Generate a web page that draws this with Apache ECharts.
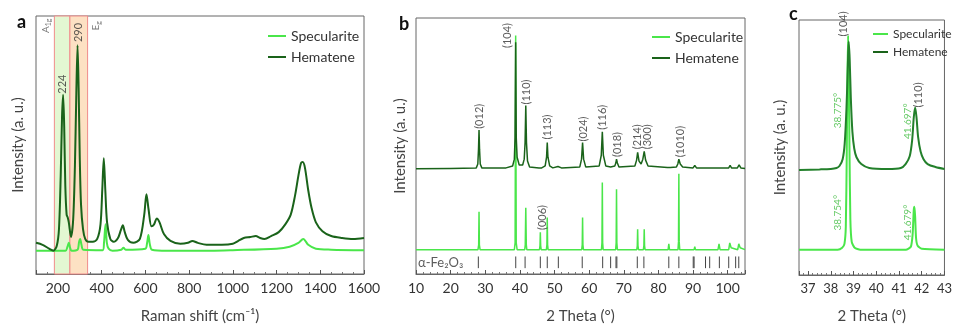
<!DOCTYPE html>
<html>
<head>
<meta charset="utf-8">
<script src="https://cdn.jsdelivr.net/npm/echarts@6/dist/echarts.min.js"></script>
<style>
html,body{margin:0;padding:0;background:#fff;}
#chart{width:955px;height:329px;}
</style>
</head>
<body>
<div id="chart"></div>
<script>
// ---------- Panel a: Raman spectra (x: cm-1, y: a.u.) ----------
const ramanHematene = [
  [100,32],[130,30],[160,26],[180,24],[195,29],[205,46],[213,101],[219,161],[224,184],[229,151],[234,91],
  [240,61],[245,58],[250,53],[260,38],[270,56],[278,111],[284,181],[290,235],[295,191],[300,121],[306,71],
  [315,46],[325,36],[340,33],[360,33],[380,36],[395,51],[403,86],[410,119],[417,86],[425,53],[440,36],
  [455,33],[475,37],[488,45],[497,50],[506,43],[520,35],[545,32],[575,36],[595,61],[605,82],[615,66],
  [628,49],[640,51],[652,57],[665,53],[685,41],[715,34],[760,31],[795,32],[815,34],[840,32],[880,30],
  [950,30],[1000,31],[1025,34],[1050,37],[1080,38],[1105,39],[1125,37],[1145,36],[1175,39],[1210,43],
  [1240,51],[1265,61],[1285,81],[1300,101],[1312,114],[1320,115],[1330,109],[1345,86],[1360,68],
  [1380,53],[1410,44],[1450,39],[1500,37],[1550,36],[1600,37]
];
const ramanSpecularite = [
  [100,24],[235,24],[244,28],[250,32],[256,27],[262,24],[290,25],[297,33],[302,36],[308,30],[316,25],
  [405,24.5],[411,32],[418,51],[424,32],[432,26],[450,24],[490,25],[500,27],[510,25],[600,26],[608,32],
  [614,40],[621,30],[630,25],[700,24],[900,24],[1000,24.5],[1200,26],[1260,28],[1300,32],[1322,36],
  [1345,30],[1380,26],[1450,25],[1600,24.5]
];
const ramanBands = [[184,255,'#e3f7d2'],[255,336,'#fde1c3']];
const ramanPeakLabels = [[223,195,'224'],[292,248,'290']];
const ramanModeLabels = [[146,255,'{a|A}{s|1g}'],[374,255,'{a|E}{s|g}']];
const ramanTicks = {min:100, max:1600};

// ---------- Panel b: XRD patterns (x: 2 theta deg) ----------
const xrdHematene = [
  [10,108],[20,108.5],[27.4,109],[27.85,113],[28.05,128],[28.2,148],[28.35,128],[28.55,113],[29.0,109],
  [36,109],[37.9,111],[38.4,118],[38.6,140],[38.78,238],[38.95,140],[39.2,120],[39.8,112],[40.8,112],
  [41.25,118],[41.5,135],[41.7,173],[41.9,135],[42.2,116],[42.8,110],[45.5,109],[45.9,111],[46.3,109],
  [47.3,111],[47.7,120],[47.9,135],[48.1,120],[48.6,111],[49.5,109],[51.0,110.5],[52,109],
  [57.3,110],[57.8,118],[58.1,135],[58.4,118],[59,110],[62.9,111],[63.5,122],[63.8,146],[64.1,122],
  [64.8,111],[66.2,110],[67.4,111],[67.7,114],[67.9,118],[68.15,114],[68.6,110],[73.2,111],[73.7,117],
  [74.0,125],[74.4,116],[75.0,113],[75.5,118],[75.9,126],[76.3,117],[77,111],[82.6,109.5],[83.0,111.5],
  [83.4,109.5],[85.2,110],[85.6,113],[85.9,118],[86.3,113],[87,110],[90,109],[90.5,111.5],[91,109],
  [97,109],[97.5,111],[98,109],[100.3,109],[100.7,111.5],[101.1,109],[102.8,109],[103.3,112],[103.8,109],[105,108.5]
];
const xrdSpecularite = [
  [10,25],[27.9,25],[28.1,30],[28.2,64],[28.3,30],[28.5,25],[38.4,25],[38.62,32],[38.78,245],[38.94,32],
  [39.2,25],[41.4,25],[41.55,30],[41.7,68],[41.85,30],[42.0,25],[45.65,25],[45.8,29],[45.9,43],[46.0,29],
  [46.15,25],[47.65,25],[47.8,30],[47.9,58],[48.0,30],[48.15,25],[57.85,25],[58.0,30],[58.1,58],[58.2,30],
  [58.35,25],[63.55,25],[63.7,32],[63.8,94],[63.9,32],[64.05,25],[67.65,25],[67.8,32],[67.9,87],[68.0,32],
  [68.15,25],[73.75,25],[73.9,29],[74.0,46],[74.1,29],[74.25,25],[75.65,25],[75.8,29],[75.9,46],[76.0,29],
  [76.15,25],[82.8,25],[83.0,31],[83.2,25],[85.65,25],[85.8,33],[85.9,103],[86.0,33],[86.15,25],
  [90.3,25],[90.5,28],[90.7,25],[93.5,25],[93.8,26],[94.1,25],[97.2,25],[97.5,31],[97.8,25],
  [100.3,25],[100.6,32],[100.75,34],[101.0,27],[101.2,25],[102.9,25],[103.2,31],[103.35,33],[103.6,27],
  [103.9,25],[105,25]
];
const xrdRefSticks = [28.0,38.8,41.5,45.9,47.9,51.1,58.0,63.9,66.2,67.75,68.0,73.9,75.8,83.0,85.9,
  90.05,90.3,93.6,94.8,97.6,100.3,102.3,103.2];
const xrdStickRange = [6,18];
const xrdPeakLabels = [
  [28.4,162,'(012)'],[36.5,245,'(104)'],[41.9,187,'(110)'],[47.9,151,'(113)'],[58.3,149,'(024)'],
  [63.8,161,'(116)'],[68.1,133,'(018)'],[73.9,141,'(214)'],[76.8,141,'(300)'],[86.4,136,'(1010)'],
  [46.4,58,'(006)']
];

// ---------- Panel c: zoomed XRD (x: 2 theta deg) ----------
const zoomHematene = [
  [36.6,108],[37.5,108.5],[38.0,109],[38.25,110],[38.38,112],[38.52,119],[38.61,135],[38.69,172],
  [38.75,215],[38.785,240],[38.83,222],[38.88,182],[38.95,147],[39.03,130],[39.13,121],[39.34,114],
  [39.69,110],[40.5,109],[41.08,110],[41.29,114],[41.47,122],[41.58,139],[41.65,162],[41.71,172],
  [41.77,162],[41.84,142],[41.95,127],[42.08,119],[42.26,114],[42.6,111],[43.0,109]
];
const zoomSpecularite = [
  [36.6,26],[38.3,26],[38.5,28],[38.6,32],[38.66,50],[38.70,122],[38.73,202],[38.76,246],[38.79,212],
  [38.82,132],[38.86,57],[38.92,34],[39.05,28],[39.3,26],[41.3,26],[41.52,29],[41.6,42],[41.65,67],
  [41.68,70],[41.71,60],[41.75,38],[41.82,30],[42.0,27],[43.0,26]
];
const zoomHklLabels = [[38.56,258,'(104)'],[41.84,185,'(110)']];
const zoomAngleLabels = [[38.31,169,'38.775°'],[41.39,158,'41.697°'],[38.31,64,'38.754°'],[41.39,54,'41.679°']];

// ---------- styling ----------
const FONT = 'Lato';
const C_SPEC = '#4ae64a';
const C_HEM = '#1a631a';
const C_HEM_C = '#23802b';
const C_ANGLE = '#3dbb3d';
const GRID_BORDER = '#666';

const grids = [
  {left:36, top:16, width:328, height:265},
  {left:416, top:18, width:329, height:263},
  {left:799, top:20, width:154, height:262}
];

const plainNum = v => String(Math.round(v*100)/100);

function xAxisBase(i, extra){
  return Object.assign({
    type:'value', gridIndex:i,
    nameLocation:'middle', nameGap:35,
    nameTextStyle:{fontFamily:FONT, fontSize:15, color:'#444'},
    axisLine:{show:true, lineStyle:{color:GRID_BORDER, width:1}},
    axisTick:{show:true, inside:true, length:4, lineStyle:{color:'#555'}},
    minorTick:{show:true, length:2, lineStyle:{color:'#777'}},
    splitLine:{show:false}
  }, extra);
}
function yAxisBase(i, max, gap){
  return {
    type:'value', gridIndex:i, min:0, max:max,
    name:'Intensity (a. u.)', nameLocation:'middle', nameRotate:90, nameGap:gap,
    nameTextStyle:{fontFamily:FONT, fontSize:15, color:'#444'},
    axisLine:{show:false}, axisTick:{show:false}, axisLabel:{show:false}, splitLine:{show:false}
  };
}

function labelSeries(gi, data, style){
  return {
    type:'scatter', xAxisIndex:gi, yAxisIndex:gi, symbolSize:0, silent:true, z:10,
    data:data.map(d=>({value:[d[0],d[1]], name:d[2]})),
    label:Object.assign({show:true, formatter:'{b}', position:'inside', rotate:90,
      align:'center', verticalAlign:'middle', fontFamily:FONT, fontSize:11, color:'#333'}, style)
  };
}

const option = {
  animation:false,
  backgroundColor:'#fff',
  grid: grids.map(g=>Object.assign({show:true, borderColor:GRID_BORDER, borderWidth:1, containLabel:false}, g)),
  xAxis:[
    xAxisBase(0,{min:ramanTicks.min, max:ramanTicks.max, splitNumber:8, name:'Raman shift (cm\u207B\u00B9)',
      minorTick:{show:true, splitNumber:4, length:2, lineStyle:{color:'#777'}},
      axisLabel:{fontFamily:FONT, fontSize:14, color:'#333', margin:7, showMinLabel:false, formatter:plainNum}}),
    xAxisBase(1,{min:10, max:105, interval:10, name:'2 Theta (°)',
      minorTick:{show:true, splitNumber:5, length:2, lineStyle:{color:'#777'}},
      axisLabel:{fontFamily:FONT, fontSize:14, color:'#333', margin:7, showMaxLabel:false, formatter:plainNum}}),
    xAxisBase(2,{min:36.6, max:43, splitNumber:6, name:'2 Theta (°)', nameGap:34,
      minorTick:{show:true, splitNumber:5, length:2, lineStyle:{color:'#777'}},
      axisLabel:{fontFamily:FONT, fontSize:13, color:'#333', margin:7, showMinLabel:false, formatter:plainNum}})
  ],
  yAxis:[ yAxisBase(0,265,10), yAxisBase(1,263,8), yAxisBase(2,262,11) ],
  legend:[
    {data:['Specularite','Hematene'], orient:'vertical', left:263, top:24, icon:'rect', itemWidth:18, itemHeight:2,
      itemGap:7, textStyle:{fontFamily:FONT, fontSize:14, color:'#333'}},
    {data:['Specularite','Hematene'], orient:'vertical', left:647, top:25, icon:'rect', itemWidth:18, itemHeight:2,
      itemGap:7, textStyle:{fontFamily:FONT, fontSize:14, color:'#333'}},
    {data:['Specularite','Hematene'], orient:'vertical', left:868, top:23, icon:'rect', itemWidth:15, itemHeight:2,
      itemGap:6, textStyle:{fontFamily:FONT, fontSize:12, color:'#333'}}
  ],
  series:[
    // panel a
    {type:'line', name:'Specularite', xAxisIndex:0, yAxisIndex:0, data:ramanSpecularite, showSymbol:false,
      smooth:0.3, lineStyle:{color:C_SPEC, width:2}, itemStyle:{color:C_SPEC}, z:3,
      markArea:{silent:true, data:ramanBands.map(b=>[{xAxis:b[0], itemStyle:{color:b[2], borderColor:'#f08a8a', borderWidth:1}},{xAxis:b[1]}])}},
    {type:'line', name:'Hematene', xAxisIndex:0, yAxisIndex:0, data:ramanHematene, showSymbol:false,
      smooth:0.3, lineStyle:{color:C_HEM, width:2}, itemStyle:{color:C_HEM}, z:4},
    labelSeries(0, ramanPeakLabels, {fontSize:11}),
    {
      type:'scatter', xAxisIndex:0, yAxisIndex:0, symbolSize:0, silent:true, z:10,
      data:ramanModeLabels.map(d=>({value:[d[0],d[1]], name:d[2]})),
      label:{show:true, formatter:'{b}', position:'inside', rotate:90, align:'center', verticalAlign:'middle',
        rich:{a:{fontFamily:FONT, fontSize:10, color:'#555'}, s:{fontFamily:FONT, fontSize:7, color:'#555', padding:[6,0,0,0]}}}
    },
    // panel b
    {type:'line', name:'Specularite', xAxisIndex:1, yAxisIndex:1, data:xrdSpecularite, showSymbol:false,
      lineStyle:{color:C_SPEC, width:1.5}, itemStyle:{color:C_SPEC}, z:3},
    {type:'line', name:'Hematene', xAxisIndex:1, yAxisIndex:1, data:xrdHematene, showSymbol:false,
      lineStyle:{color:C_HEM, width:1.5}, itemStyle:{color:C_HEM}, z:4},
    {type:'custom', xAxisIndex:1, yAxisIndex:1, silent:true, z:5,
      data:xrdRefSticks.map(x=>[x, xrdStickRange[0], xrdStickRange[1]]),
      encode:{x:0, y:[1,2]},
      renderItem:function(params, api){
        const p1 = api.coord([api.value(0), api.value(1)]);
        const p2 = api.coord([api.value(0), api.value(2)]);
        return {type:'line', shape:{x1:p1[0], y1:p1[1], x2:p2[0], y2:p2[1]}, style:{stroke:'#444', lineWidth:1}};
      }},
    labelSeries(1, xrdPeakLabels, {fontSize:11}),
    {type:'scatter', xAxisIndex:1, yAxisIndex:1, symbolSize:0, silent:true, z:10,
      data:[{value:[10.6,12], name:'\u03B1-Fe\u2082O\u2083'}],
      label:{show:true, formatter:'{b}', position:'right', distance:0, fontFamily:FONT, fontSize:13, color:'#333'}},
    // panel c
    {type:'line', name:'Specularite', xAxisIndex:2, yAxisIndex:2, data:zoomSpecularite, showSymbol:false,
      smooth:0.2, lineStyle:{color:C_SPEC, width:2}, itemStyle:{color:C_SPEC}, z:3},
    {type:'line', name:'Hematene', xAxisIndex:2, yAxisIndex:2, data:zoomHematene, showSymbol:false,
      smooth:0.3, lineStyle:{color:C_HEM_C, width:2}, itemStyle:{color:C_HEM_C}, z:4},
    labelSeries(2, zoomHklLabels, {fontSize:11}),
    labelSeries(2, zoomAngleLabels, {fontSize:10, color:C_ANGLE})
  ],
  graphic:[
    {type:'text', left:17, top:13, style:{text:'a', font:'bold 18px '+FONT, fill:'#111'}},
    {type:'text', left:399, top:15, style:{text:'b', font:'bold 18px '+FONT, fill:'#111'}},
    {type:'text', left:789, top:5, style:{text:'c', font:'bold 18px '+FONT, fill:'#111'}}
  ]
};

const chart = echarts.init(document.getElementById('chart'), null, {renderer:'canvas'});
chart.setOption(option);
</script>
</body>
</html>
